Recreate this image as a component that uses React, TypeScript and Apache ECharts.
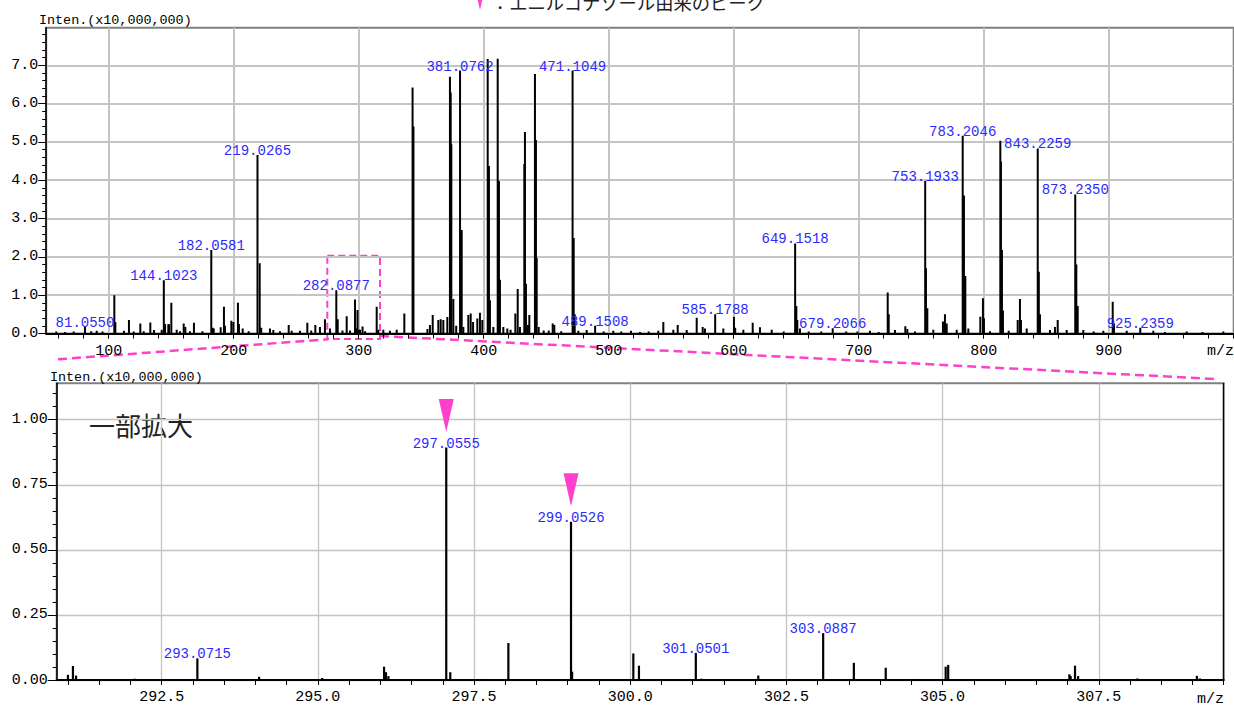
import React, { useEffect, useRef } from "react";
import * as echarts from "echarts";

// ---------- full spectrum (intensity in units of 10,000,000) ----------
const topPeakMz = [
  58, 65, 72, 81.055, 86, 90.4, 95,
  104.5, 105.3, 112.2, 116.2, 120, 125.3, 128, 133.3, 136.2, 142.4, 144.1023, 145.1, 147.7, 148.2, 150.1,
  154.4, 157, 160, 161.3, 165, 168.2, 175, 182.0581, 183.1, 184, 189.6, 192.2, 193, 198.1, 199.7,
  203.4, 204.2, 207.2, 212, 219.0265, 220.8, 222, 229, 231.7, 237, 244, 246.4, 253, 258.9, 262,
  265.3, 269, 273, 277, 282.0877, 283.2, 287, 290.4, 293.07, 297.06, 298.05, 299.05, 300.05, 301.05,
  303.09, 305.1, 314.4, 315.7, 319.7, 325, 330.4, 336.5, 343.1, 343.8, 355, 357, 359.2, 363.7, 365.6,
  367.7, 370.9, 373.0, 373.6, 374.1, 375.7, 378, 381.0762, 382.4, 383.7, 387.7, 389.6, 391.5, 394.9,
  397, 398.9, 403.2, 404.2, 405, 407.7, 411.2, 412.2, 413, 415.7, 418.9, 421.5, 425.3, 427.2, 429,
  432.5, 433.0, 433.8, 435.4, 436.5, 441.0, 441.8, 442.4, 444, 448, 452, 455.2, 456.5, 462,
  471.1049, 472, 472.8, 475.7, 482.4, 489.1508, 496, 503.7, 510, 517.8, 525, 532, 539.7, 543.7,
  551.7, 555.2, 562.4, 570.4, 575.2, 577, 585.1788, 591.7, 600.2, 601.2, 607.7, 615.2, 621, 630.4,
  640, 649.1518, 650.1, 650.9, 653, 660, 670, 679.2066, 690, 699, 709, 716, 723.2, 724, 729, 737.3,
  738.9, 745, 753.1933, 753.8, 754.9, 759.7, 767.4, 769, 770.4, 778.4, 783.2046, 784.2, 785.3, 787.7,
  797.3, 799.4, 800.2, 805, 813.3, 813.8, 814.6, 815.4, 820, 827.2, 829, 829.8, 834.4, 843.2259,
  844.1, 845.0, 853, 857, 859.2, 866.4, 873.235, 874.1, 875.2, 879.7, 888, 895.7, 903.2, 904.2,
  914.4, 925.2359, 935.7, 945, 962.4, 975, 991.7,
];
const topPeakIntensity = [
  0.05, 0.04, 0.05, 0.18, 0.06, 0.07, 0.05,
  1.0, 0.3, 0.07, 0.35, 0.05, 0.26, 0.06, 0.29, 0.09, 0.1, 1.39, 0.25, 0.24, 0.24, 0.8,
  0.1, 0.06, 0.26, 0.17, 0.06, 0.28, 0.06, 2.18, 0.15, 0.13, 0.16, 0.7, 0.2, 0.33, 0.3,
  0.8, 0.25, 0.13, 0.06, 4.66, 1.83, 0.15, 0.13, 0.09, 0.06, 0.22, 0.07, 0.07, 0.28, 0.08,
  0.22, 0.17, 0.37, 0.13, 1.13, 0.37, 0.08, 0.45, 0.08, 0.89, 0.14, 0.61, 0.1, 0.1,
  0.18, 0.06, 0.7, 0.1, 0.1, 0.07, 0.1, 0.52, 6.42, 5.4, 0.12, 0.22, 0.48, 0.35, 0.37,
  0.35, 0.43, 6.7, 6.29, 4.94, 0.9, 0.2, 6.86, 2.7, 0.17, 0.48, 0.52, 0.3, 0.39,
  0.54, 0.35, 7.16, 4.37, 0.87, 0.17, 7.17, 3.98, 1.4, 0.17, 0.13, 0.1, 0.52, 1.16, 0.17,
  4.42, 5.26, 1.3, 0.22, 0.48, 6.77, 5.05, 1.97, 0.17, 0.08, 0.08, 0.26, 0.22, 0.06,
  6.86, 2.49, 0.5, 0.07, 0.09, 0.2, 0.05, 0.07, 0.05, 0.07, 0.04, 0.05, 0.07, 0.3,
  0.1, 0.22, 0.09, 0.41, 0.17, 0.13, 0.5, 0.13, 0.44, 0.15, 0.1, 0.28, 0.16, 0.1,
  0.05, 2.35, 0.72, 0.35, 0.13, 0.05, 0.05, 0.14, 0.05, 0.05, 0.07, 0.04, 1.07, 0.5, 0.09, 0.19,
  0.12, 0.05, 3.98, 1.7, 0.66, 0.1, 0.31, 0.5, 0.26, 0.1, 5.16, 3.6, 1.5, 0.13,
  0.44, 0.92, 0.4, 0.06, 5.03, 4.49, 2.18, 0.6, 0.07, 0.35, 0.9, 0.35, 0.13, 4.83,
  1.61, 0.5, 0.09, 0.17, 0.35, 0.09, 3.63, 1.8, 0.72, 0.09, 0.05, 0.07, 0.83, 0.26,
  0.07, 0.15, 0.07, 0.04, 0.05, 0.04, 0.05,
];
const topLabelTexts = [
  "81.0550", "144.1023", "182.0581", "219.0265", "282.0877", "381.0762", "471.1049", "489.1508",
  "585.1788", "649.1518", "679.2066", "753.1933", "783.2046", "843.2259", "873.2350", "925.2359",
];

// ---------- enlarged part ----------
const zoomPeakMz = [
  291.0, 291.08, 291.13, 292.07, 293.0715, 294.06, 295.07, 296.06, 296.09, 296.13, 297.0555, 297.12,
  297.63, 298.05, 299.0526, 299.07, 300.05, 300.14, 301.0501, 301.14, 302.05, 303.0887, 303.58,
  304.09, 304.58, 305.05, 305.09, 306.09, 307.03, 307.05, 307.12, 307.17, 308.12, 309.07, 309.12,
];
const zoomPeakIntensity = [
  0.02, 0.054, 0.017, 0.005, 0.083, 0.012, 0.008, 0.051, 0.03, 0.015, 0.893, 0.03,
  0.004, 0.142, 0.608, 0.032, 0.102, 0.055, 0.104, 0.005, 0.017, 0.18, 0.066,
  0.047, 0.004, 0.051, 0.058, 0.003, 0.022, 0.015, 0.055, 0.015, 0.006, 0.016, 0.006,
];
const zoomLabelTexts = ["293.0715", "297.0555", "299.0526", "301.0501", "303.0887"];
const zoomMarkedTexts = ["297.0555", "299.0526"];

// ---------- axes ----------
const topXTicks = [100, 200, 300, 400, 500, 600, 700, 800, 900];
const topYTicks = [0, 1, 2, 3, 4, 5, 6, 7];
const zoomXTicks = [292.5, 295, 297.5, 300, 302.5, 305, 307.5];
const zoomYTicks = [0, 0.25, 0.5, 0.75, 1.0];
const topXMinorTicks: number[] = [];
for (let v = 60; v <= 1000; v += 20) topXMinorTicks.push(v);
const topYMinorTicks: number[] = [];
for (let i = 1; i <= 39; i++) topYMinorTicks.push(+(i * 0.2).toFixed(1));
const zoomXMinorTicks: number[] = [];
for (let i = 0; i <= 37; i++) zoomXMinorTicks.push(291 + i * 0.5);
const zoomYMinorTicks: number[] = [];
for (let i = 1; i <= 22; i++) zoomYMinorTicks.push(+(i * 0.05).toFixed(2));

const PINK = "#ff40cc";
const BLUE = "#2a2aff";
const MONO = '"Liberation Mono", "DejaVu Sans Mono", monospace';
const CJK = '"Noto Sans CJK JP", sans-serif';

function labelData(texts: string[], mz: number[], inten: number[]) {
  return texts.map((t) => {
    const idx = mz.findIndex((m) => Math.abs(m - Number(t)) < 1e-6);
    return [mz[idx], inten[idx]];
  });
}

function peakSeries(axis: number, mz: number[], inten: number[], width: number) {
  return {
    type: "custom",
    xAxisIndex: axis,
    yAxisIndex: axis,
    silent: true,
    clip: true,
    encode: { x: 0, y: 1 },
    data: mz.map((m, i) => [m, inten[i]]),
    renderItem: (_p: any, api: any) => {
      const a = api.coord([api.value(0), 0]);
      const b = api.coord([api.value(0), api.value(1)]);
      return {
        type: "line",
        shape: { x1: a[0], y1: a[1], x2: b[0], y2: b[1] },
        style: { stroke: "#000", lineWidth: width },
      };
    },
  };
}

function labelSeries(axis: number, texts: string[], mz: number[], inten: number[], marked: string[]) {
  return {
    type: "custom",
    xAxisIndex: axis,
    yAxisIndex: axis,
    silent: true,
    z: 5,
    encode: { x: 0, y: 1 },
    data: labelData(texts, mz, inten),
    renderItem: (params: any, api: any) => {
      const p = api.coord([api.value(0), api.value(1)]);
      const text = texts[params.dataIndex];
      const children: any[] = [
        {
          type: "text",
          x: p[0],
          y: p[1] - 4,
          style: {
            text,
            fill: BLUE,
            fontSize: 14,
            fontFamily: MONO,
            align: "center",
            verticalAlign: "middle",
          },
        },
      ];
      if (marked.indexOf(text) >= 0) {
        children.push({
          type: "polygon",
          shape: {
            points: [
              [p[0] - 7.5, p[1] - 48.5],
              [p[0] + 7.5, p[1] - 48.5],
              [p[0], p[1] - 15.5],
            ],
          },
          style: { fill: PINK },
        });
      }
      return { type: "group", children };
    },
  };
}

export default function App() {
  const ref = useRef<HTMLDivElement>(null);

  useEffect(() => {
    if (!ref.current) return;
    const chart = echarts.init(ref.current, null, { renderer: "svg" });

    const axisLabelFont = { fontFamily: MONO, fontSize: 15, color: "#000" };
    const grid0 = { left: 46.2, top: 27.7, width: 1187.5, height: 305.8 };
    const grid1 = { left: 56.7, top: 383.3, width: 1167, height: 300.2 };

    const xMain = (gi: number, min: number, max: number, ticks: number[], fmt: (v: number) => string, splitW: number) => ({
      type: "value",
      gridIndex: gi,
      min,
      max,
      position: "bottom",
      axisLine: { show: true, onZero: false, lineStyle: { color: "#000", width: 2 } },
      axisTick: { show: true, length: 5, customValues: ticks, lineStyle: { color: "#000", width: 1 } },
      axisLabel: { show: true, customValues: ticks, margin: 10, formatter: fmt, ...axisLabelFont },
      splitLine: { show: true, lineStyle: { color: "#c4c4c4", width: splitW } },
    });
    const xMinor = (gi: number, min: number, max: number, ticks: number[]) => ({
      type: "value",
      gridIndex: gi,
      min,
      max,
      position: "bottom",
      axisLine: { show: false, onZero: false },
      axisTick: { show: true, length: 5, customValues: ticks, lineStyle: { color: "#000", width: 1 } },
      axisLabel: { show: false },
      splitLine: { show: false },
    });
    const yMain = (gi: number, max: number, ticks: number[], fmt: (v: number) => string, splitW: number, tickLen: number) => ({
      type: "value",
      gridIndex: gi,
      min: 0,
      max,
      position: "left",
      axisLine: { show: true, onZero: false, lineStyle: { color: "#000", width: 1.5 } },
      axisTick: { show: true, length: tickLen, customValues: ticks, lineStyle: { color: "#000", width: 1 } },
      axisLabel: { show: true, customValues: ticks, margin: tickLen, formatter: fmt, ...axisLabelFont },
      splitLine: { show: true, lineStyle: { color: "#c4c4c4", width: splitW } },
    });
    const yMinor = (gi: number, max: number, ticks: number[]) => ({
      type: "value",
      gridIndex: gi,
      min: 0,
      max,
      position: "left",
      axisLine: { show: false, onZero: false },
      axisTick: { show: true, length: 4, customValues: ticks, lineStyle: { color: "#000", width: 1 } },
      axisLabel: { show: false },
      splitLine: { show: false },
    });

    chart.setOption({
      animation: false,
      backgroundColor: "#fff",
      grid: [
        { ...grid0, show: true, borderColor: "#808080", borderWidth: 2, backgroundColor: "transparent" },
        { ...grid1, show: true, borderColor: "#808080", borderWidth: 2, backgroundColor: "transparent" },
      ],
      xAxis: [
        xMain(0, 50, 1000, topXTicks, (v) => String(Math.round(v)), 2),
        xMain(1, 290.82, 309.5, zoomXTicks, (v) => v.toFixed(1), 1.3),
        xMinor(0, 50, 1000, topXMinorTicks),
        xMinor(1, 290.82, 309.5, zoomXMinorTicks),
      ],
      yAxis: [
        yMain(0, 7.98, topYTicks, (v) => v.toFixed(1), 2, 8),
        yMain(1, 1.14, zoomYTicks, (v) => v.toFixed(2), 1.3, 9),
        yMinor(0, 7.98, topYMinorTicks),
        yMinor(1, 1.14, zoomYMinorTicks),
        {
          type: "value",
          gridIndex: 1,
          min: 0,
          max: 1.14,
          position: "right",
          axisLine: { show: true, onZero: false, lineStyle: { color: "#000", width: 1.2 } },
          axisTick: { show: false },
          axisLabel: { show: false },
          splitLine: { show: false },
        },
      ],
      series: [
        peakSeries(0, topPeakMz, topPeakIntensity, 2),
        peakSeries(1, zoomPeakMz, zoomPeakIntensity, 2.2),
        labelSeries(0, topLabelTexts, topPeakMz, topPeakIntensity, []),
        labelSeries(1, zoomLabelTexts, zoomPeakMz, zoomPeakIntensity, zoomMarkedTexts),
      ],
      graphic: [
        {
          type: "polygon",
          shape: { points: [[472.5, -23], [487.5, -23], [480, 10]] },
          style: { fill: PINK },
        },
        {
          type: "text",
          x: 491,
          y: 2,
          style: {
            text: "：エニルコナゾール由来のピーク",
            fill: "#222",
            fontSize: 18.3,
            fontFamily: CJK,
            align: "left",
            verticalAlign: "middle",
          },
        },
        {
          type: "text",
          x: 39,
          y: 20,
          style: { text: "Inten.(x10,000,000)", fill: "#000", fontSize: 13.4, fontFamily: MONO, align: "left", verticalAlign: "middle" },
        },
        {
          type: "text",
          x: 50,
          y: 377,
          style: { text: "Inten.(x10,000,000)", fill: "#000", fontSize: 13.4, fontFamily: MONO, align: "left", verticalAlign: "middle" },
        },
        {
          type: "text",
          x: 1234,
          y: 351,
          style: { text: "m/z", fill: "#000", fontSize: 15, fontFamily: MONO, align: "right", verticalAlign: "middle" },
        },
        {
          type: "text",
          x: 1224,
          y: 699,
          style: { text: "m/z", fill: "#000", fontSize: 15, fontFamily: MONO, align: "right", verticalAlign: "middle" },
        },
        {
          type: "text",
          x: 89,
          y: 424,
          style: { text: "一部拡大", fill: "#222", fontSize: 26, fontFamily: CJK, align: "left", verticalAlign: "middle" },
        },
        {
          type: "rect",
          shape: { x: 327.3, y: 255.7, width: 52.7, height: 83.3 },
          style: { fill: "none", stroke: PINK, lineWidth: 2, lineDash: [7, 4] },
        },
        {
          type: "line",
          shape: { x1: 58, y1: 359.3, x2: 328, y2: 339.3 },
          style: { stroke: PINK, lineWidth: 2.5, lineDash: [9, 5] },
        },
        {
          type: "line",
          shape: { x1: 380, y1: 336, x2: 1215, y2: 379 },
          style: { stroke: PINK, lineWidth: 2.5, lineDash: [9, 5] },
        },
      ],
    });

    return () => chart.dispose();
  }, []);

  return (
    <div
      ref={ref}
      style={{ position: "absolute", left: 0, top: 0, width: 1234, height: 705, background: "#fff" }}
    />
  );
}
